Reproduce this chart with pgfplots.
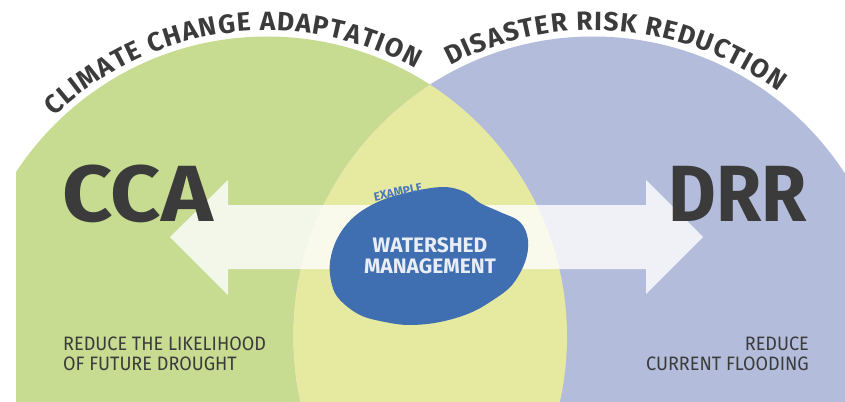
\documentclass[border=0pt]{standalone}
\usepackage{pgfplots}
\pgfplotsset{compat=1.18}
\usepackage{fontspec}
\setmainfont{Fira Sans}
\newfontfamily\condfont[FakeStretch=0.93]{Fira Sans}
\newfontfamily\wideccafont[FakeStretch=1.1]{Fira Sans}
\newfontfamily\narrowdrrfont[FakeStretch=0.92]{Fira Sans}
\usetikzlibrary{decorations.text}

\definecolor{ccagreen}{HTML}{C7DB91}
\definecolor{drrblue}{HTML}{B3BDDB}
\definecolor{lensyellow}{HTML}{E6E9A0}
\definecolor{blobblue}{HTML}{3F6FB1}
\definecolor{exblue}{HTML}{4A76BD}
\definecolor{darktext}{HTML}{3B3B3B}
\definecolor{blobtext}{HTML}{E9EDF5}

\newcommand\arcfont{\fontsize{26.5}{27}\selectfont\bfseries}

\begin{document}
\begin{tikzpicture}
\begin{axis}[
  hide axis,
  x=1bp, y=1bp,
  xmin=0, xmax=845,
  ymin=0, ymax=401,
  clip=false,
]
% the two circles and their overlap
\begin{scope}
  \clip (16,0) rectangle (845,401);
  \fill[ccagreen] (267,64.5) circle[radius=300];
  \fill[drrblue] (593,64.5) circle[radius=300];
  \begin{scope}
    \clip (267,64.5) circle[radius=300];
    \fill[lensyellow] (593,64.5) circle[radius=300];
  \end{scope}
\end{scope}

% double arrow
\addplot[draw=none, fill=white, fill opacity=0.8] coordinates {
  (170,164) (228,221) (228,196) (646,196) (646,221)
  (703,164) (646,107) (646,132) (228,132) (228,106)
} -- cycle;

% watershed blob
\fill[blobblue] plot[smooth cycle, tension=0.6] coordinates {
  (340,101) (360,86) (385,79) (410,76) (440,79) (470,88) (493,101)
  (512,116) (525,139) (528,161) (520,179) (500,189) (480,198)
  (465,209) (443,214) (410,209) (380,200) (355,185) (338,164)
  (330,139) (332,116)
};

% curved titles
\path[decorate, decoration={text along path,
    text={|\arcfont|CLIMATE CHANGE ADAPTATION},
    text align={fit to path}, text color=darktext}]
  (54.4,284.6) arc[start angle=134, end angle=61, radius=306];
\path[decorate, decoration={text along path,
    text={|\arcfont|DISASTER RISK REDUCTION},
    text align={fit to path}, text color=darktext}]
  (450.3,335.0) arc[start angle=118, end angle=53, radius=306];

% big labels
\node[anchor=base west, inner sep=0, text=darktext,
  font=\wideccafont\fontsize{80}{80}\selectfont\bfseries] at (62,180) {CCA};
\node[anchor=base east, inner sep=0, text=darktext,
  font=\narrowdrrfont\fontsize{80}{80}\selectfont\bfseries] at (807,180) {DRR};

% bottom notes
\node[anchor=base west, inner sep=0, text=darktext,
  font=\condfont\fontsize{19.5}{20}\selectfont] at (63,51) {REDUCE THE LIKELIHOOD};
\node[anchor=base west, inner sep=0, text=darktext,
  font=\condfont\fontsize{19.5}{20}\selectfont] at (63,31) {OF FUTURE DROUGHT};
\node[anchor=base east, inner sep=0, text=darktext,
  font=\condfont\fontsize{19.5}{20}\selectfont] at (809,51) {REDUCE};
\node[anchor=base east, inner sep=0, text=darktext,
  font=\condfont\fontsize{19.5}{20}\selectfont] at (809,31) {CURRENT FLOODING};

% blob text
\node[anchor=base, inner sep=0, text=blobtext,
  font=\fontsize{21}{21}\selectfont\bfseries] at (430,149) {WATERSHED};
\node[anchor=base, inner sep=0, text=blobtext,
  font=\fontsize{21}{21}\selectfont\bfseries] at (430,128) {MANAGEMENT};
\node[rotate=12, inner sep=0, text=exblue,
  font=\fontsize{12}{12}\selectfont\bfseries] at (398,209) {EXAMPLE};
\end{axis}
\pgfresetboundingbox
\useasboundingbox (current axis.south west) rectangle (current axis.north east);
\end{tikzpicture}
\end{document}
